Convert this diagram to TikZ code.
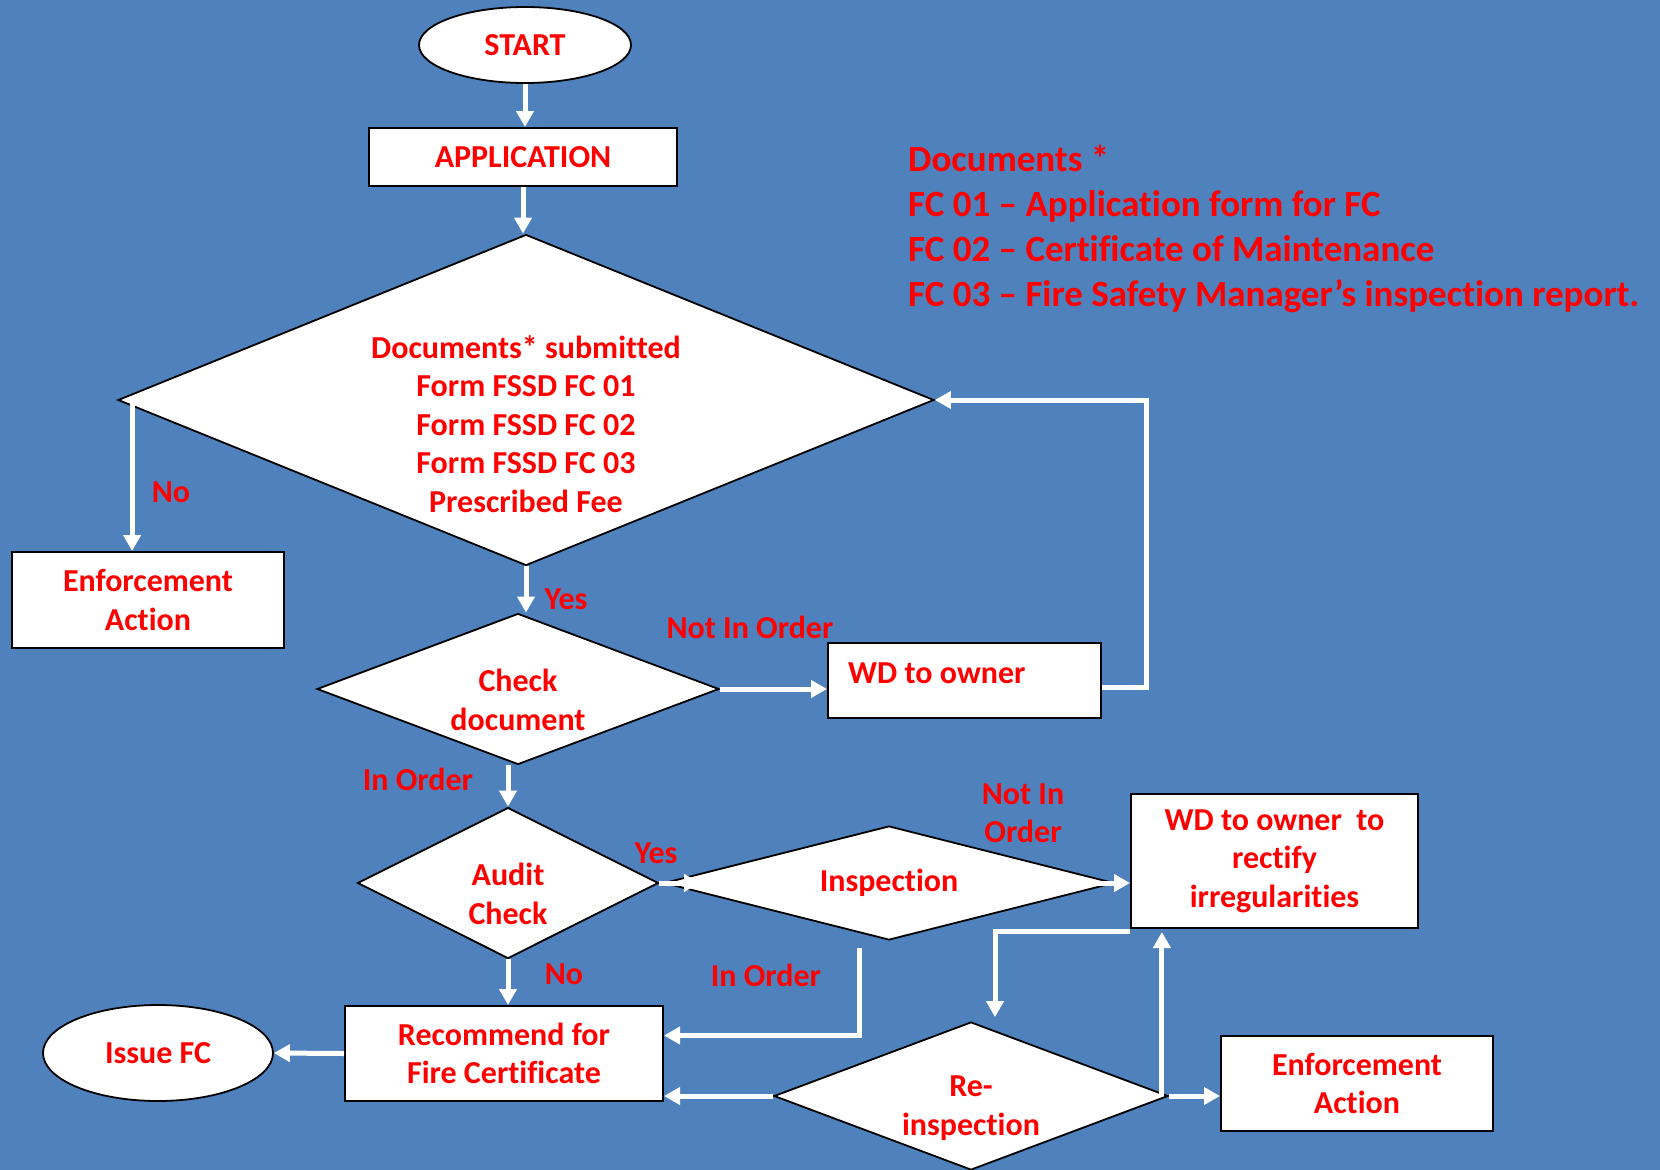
\documentclass[tikz,border=0pt]{standalone}
\usepackage{fontspec}
\setmainfont{Carlito}[Ligatures=NoCommon]
\usetikzlibrary{shapes.geometric,arrows.meta}
\definecolor{bg}{RGB}{79,129,189}
\definecolor{txt}{RGB}{255,0,0}
\begin{document}
\begin{tikzpicture}[x=1pt,y=-1pt,
 txtst/.style={text=txt,font=\fontsize{32}{38.5}\selectfont\bfseries,align=center},
 box/.style={rectangle,draw=black,line width=2pt,fill=white,inner sep=0pt,txtst},
 dia/.style={diamond,draw=black,line width=1.8pt,fill=white,inner sep=0pt},
 oval/.style={ellipse,draw=black,line width=1.8pt,fill=white,inner sep=0pt,txtst},
 lbl/.style={txtst,inner sep=0pt},
 arr/.style={draw=white,line width=5pt,-{Triangle[length=16pt,width=17pt]}},
 ln/.style={draw=white,line width=5pt}]
\fill[bg] (0,0) rectangle (1660,1170);
\useasboundingbox (0,0) rectangle (1660,1170);

% nodes
\node[oval,minimum width=212pt,minimum height=76pt] (start) at (525,45) {START};
\node[box,minimum width=308pt,minimum height=58pt] (app) at (523,157) {APPLICATION};
\node[dia,minimum width=816pt,minimum height=331pt] (bigd) at (526,400) {};
\node[lbl] (bigdt) at (526,424) {Documents* submitted\\Form FSSD FC 01\\Form FSSD FC 02\\Form FSSD FC 03\\Prescribed Fee};
\node[box,minimum width=272pt,minimum height=96pt] (enf1) at (148,600) {Enforcement\\Action};
\node[dia,minimum width=402pt,minimum height=151pt] (chk) at (518,689) {};
\node[lbl] (chkt) at (518,700) {Check\\document};
\node[box,minimum width=273pt,minimum height=75pt] (wd1) at (964.5,680.5) {};
\node[lbl,anchor=west] (wd1t) at (848,673) {WD to owner};
\node[dia,minimum width=301pt,minimum height=151pt] (aud) at (508,883) {};
\node[lbl] (audt) at (508,894) {Audit\\Check};
\node[dia,minimum width=450pt,minimum height=114pt] (insp) at (889,883) {};
\node[lbl] (inspt) at (889,883) {Inspection};
\node[box,minimum width=287pt,minimum height=134pt] (wd2) at (1274.5,861) {WD to owner~ to\\rectify\\irregularities};
\node[box,minimum width=318pt,minimum height=95pt] (rec) at (504,1053.5) {Recommend for\\Fire Certificate};
\node[oval,minimum width=230pt,minimum height=96pt] (issue) at (158,1053) {Issue FC};
\node[dia,minimum width=394pt,minimum height=148pt] (rein) at (971,1096) {};
\node[lbl] (reint) at (971,1108) {Re-\\inspection};
\node[box,minimum width=272pt,minimum height=95pt] (enf2) at (1357,1083.5) {Enforcement\\Action};

% labels
\node[lbl] (lno1) at (171,492) {No};
\node[lbl] (lyes1) at (566,599) {Yes};
\node[lbl] (lnio1) at (750,627) {Not In Order};
\node[lbl] (lio1) at (418,779) {In Order};
\node[lbl] (lyes2) at (656,853) {Yes};
\node[lbl] (lnio2) at (1023,813) {Not In\\Order};
\node[lbl] (lio2) at (766,975) {In Order};
\node[lbl] (lno2) at (564,974) {No};

% legend
\node[text=txt,font=\fontsize{37}{45}\selectfont\bfseries,align=left,anchor=west,inner sep=0pt] (legend) at (908,228.5)
 {Documents *\\FC 01 – Application form for FC\\FC 02 – Certificate of Maintenance\\FC 03 – Fire Safety Manager’s inspection report.};

% connectors
\draw[arr] (start.south) -- (start.south |- app.north);
\draw[arr] (app.south) -- (app.south |- bigd.north);
\draw[arr] ([xshift=15pt]bigd.west) -- ([xshift=15pt]bigd.west |- enf1.north);
\draw[arr] (bigd.south) -- (bigd.south |- chk.north);
\draw[arr] (chk.east) -- (chk.east -| wd1.west);
\coordinate (loop) at (1146,687);
\draw[arr] (loop -| wd1.east) -- (loop) |- (bigd.east);
\draw[arr] (aud.north |- chk.south) -- (aud.north);
\draw[arr] (aud.east) -- ([xshift=37pt]insp.west);
\draw[arr] ([xshift=-36pt]insp.east) -- (wd2.west |- insp.east);
\draw[arr] ([xshift=-30pt,yshift=-7pt]insp.south) |- ([yshift=18pt]rec.east);
\draw[arr] (aud.south) -- (aud.south |- rec.north);
\draw[arr] (rec.west) -- (issue.east);
\draw[arr] (rein.west) -- (rein.west -| rec.east);
\draw[arr] ([yshift=-2pt]wd2.south west) -| ([xshift=24pt,yshift=4pt]rein.north);
\draw[arr] ([xshift=-7pt]rein.east) -- ([xshift=-7pt,yshift=-3pt]rein.east |- wd2.south);
\draw[arr] (rein.east) -- (rein.east -| enf2.west);
\end{tikzpicture}
\end{document}
